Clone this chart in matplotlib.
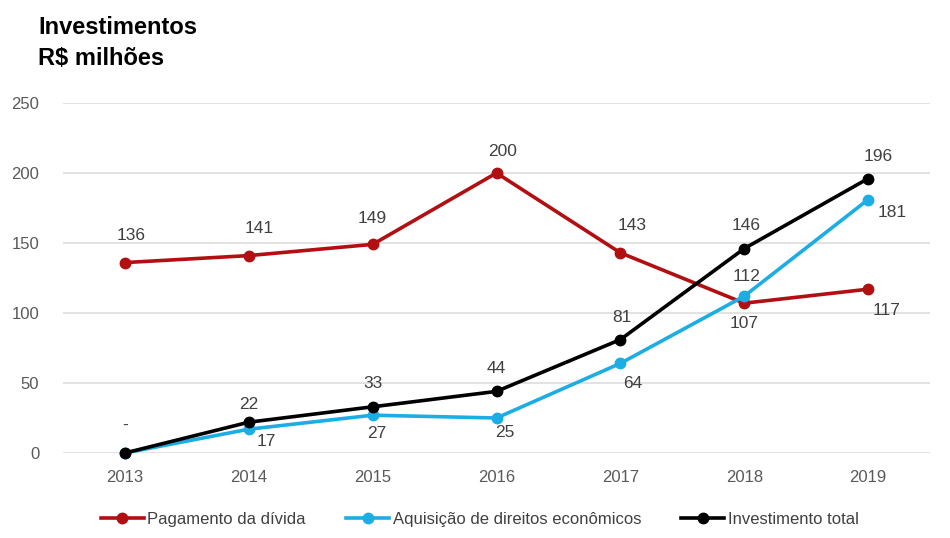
import matplotlib.pyplot as plt

plt.rcParams["font.family"] = ["Liberation Sans", "DejaVu Sans"]

anos = ["2013", "2014", "2015", "2016", "2017", "2018", "2019"]
pagamento_divida = [136, 141, 149, 200, 143, 107, 117]
aquisicao_direitos = [0, 17, 27, 25, 64, 112, 181]
investimento_total = [0, 22, 33, 44, 81, 146, 196]

rotulos_pagamento = ["136", "141", "149", "200", "143", "107", "117"]
rotulos_aquisicao = [None, "17", "27", "25", "64", "112", "181"]
rotulos_total = ["-", "22", "33", "44", "81", "146", "196"]

yticks = [0, 50, 100, 150, 200, 250]

VERMELHO = "#B20F12"
AZUL = "#1BADE4"
PRETO = "#000000"
CINZA = "#595959"

# label offsets in pixels (dx, dy)
off_pagamento = [(6, 27), (10, 27), (0, 26), (6, 21), (12, 27), (0, -20), (18, -21)]
off_aquisicao = [None, (18, -12), (4, -18), (8, -15), (12, -20), (2, 20), (24, -13)]
off_total = [(0, 28), (0, 18), (0, 23), (0, 23), (2, 22), (2, 23), (10, 22)]

fig = plt.figure(figsize=(9.5, 5.38), dpi=100)
ax = fig.add_axes([63 / 950, 0.158, (930 - 63) / 950, 0.8086 - 0.158])

x = list(range(len(anos)))
series = [
    (pagamento_divida, rotulos_pagamento, off_pagamento, VERMELHO, "Pagamento da dívida"),
    (aquisicao_direitos, rotulos_aquisicao, off_aquisicao, AZUL, "Aquisição de direitos econômicos"),
    (investimento_total, rotulos_total, off_total, PRETO, "Investimento total"),
]

for valores, rotulos, offs, cor, nome in series:
    ax.plot(x, valores, color=cor, lw=2.6, marker="o", ms=7.5, label=nome,
            clip_on=False, zorder=3)
    for xi, v, r, o in zip(x, valores, rotulos, offs):
        if r is None:
            continue
        ax.annotate(r, (xi, v), xytext=o, textcoords="offset pixels",
                    ha="center", va="center", fontsize=12.5, color="#404040")

ax.set_xlim(-0.5, 6.5)
ax.set_ylim(0, 250)
ax.set_xticks(x)
ax.set_xticklabels(anos)
ax.set_yticks(yticks)
ax.grid(axis="y", color="#DDDDDD", lw=1.2)
ax.set_axisbelow(True)
for s in ax.spines.values():
    s.set_visible(False)
ax.tick_params(axis="both", length=0, labelsize=12, labelcolor=CINZA)
ax.tick_params(axis="y", pad=17)
ax.tick_params(axis="x", pad=12)

fig.text(38 / 950, 1 - 16 / 538, "Investimentos\nR$ milhões", ha="left", va="top",
         fontsize=17, fontweight="bold", linespacing=1.45)

fig.legend(loc="center", bbox_to_anchor=(0.505, 0.034), ncol=3, frameon=False,
           fontsize=12, handlelength=2.6, handletextpad=0.2, columnspacing=2.4,
           numpoints=1, labelcolor="#404040")

fig.savefig("out.png", dpi=100, facecolor="white")
